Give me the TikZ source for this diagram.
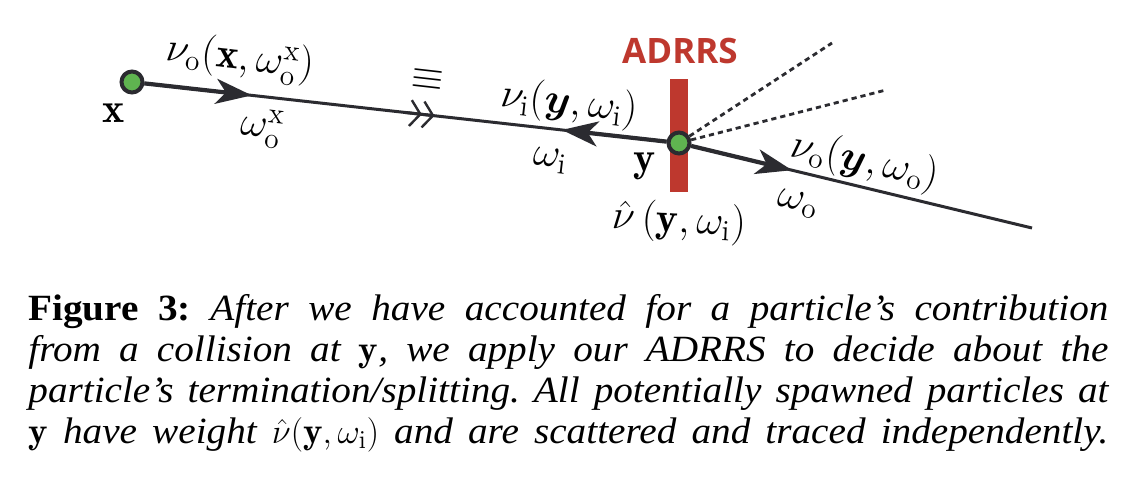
\documentclass[tikz,border=0pt]{standalone}
\usepackage{amsmath}
\usepackage{fontspec}
\newfontfamily\capfont[Ligatures=TeX,FakeStretch=1.06]{Liberation Serif}
\newfontfamily\adrrsfont{Open Sans}
\usetikzlibrary{arrows.meta,calc}
\definecolor{ink}{RGB}{43,43,48}
\definecolor{adred}{RGB}{190,56,46}
\definecolor{dotgreen}{RGB}{95,180,80}
\begin{document}
\begin{tikzpicture}[x=0.5pt,y=-0.5pt,
  lbl/.style={font=\fontsize{21}{25}\selectfont, inner sep=0pt},
  pathline/.style={draw=ink, line width=1.5pt},
  heavy/.style={draw=ink, line width=2.1pt, -{Stealth[length=18pt,width=12.5pt,inset=5pt]}},
  spot/.style={circle, draw=ink, line width=2pt, fill=dotgreen, minimum size=10.5pt, inner sep=0pt},
  scatter/.style={draw=ink, line width=1.4pt, dash pattern=on 2.6pt off 2pt}
]
\fill[white] (0,0) rectangle (1140,494);
\useasboundingbox (0,0) rectangle (1140,494);
\fill[adred] (670,79) rectangle (688,192);
\node[spot] (x) at (132,82) {};
\node[spot] (y) at (679,143) {};
\coordinate (oend) at (1032,228);
\coordinate (u1) at (832,43);
\coordinate (u2) at (886,90);
\draw[pathline] (x) -- (y);
\draw[pathline] (y) -- (oend);
\draw[heavy] (x) -- ($(x)!0.219!(y)$);
\draw[heavy] (y) -- ($(x)!0.786!(y)$);
\draw[heavy] (y) -- ($(y)!0.32!(oend)$);
\draw[ink, line width=1.5pt, -{Straight Barb[length=5pt,width=13pt,line width=1.2pt] Straight Barb[length=5pt,width=13pt,line width=1.2pt]}] ($(x)!0.5!(y)$) -- ($(x)!0.553!(y)$);
\draw[scatter] (y) -- (u1);
\draw[scatter] (y) -- (u2);
\node[lbl, rotate=-6.5] (lxo) at (240,59) {$\nu_{\mathrm{o}}(\mathbf{x},\omega_{\mathrm{o}}^{\mathrm{x}})$};
\node[lbl, rotate=-6.5] (lwx) at (262,128) {$\omega_{\mathrm{o}}^{\mathrm{x}}$};
\node[lbl] (lx) at (114,113) {$\mathbf{x}$};
\node[lbl, rotate=-6.5] (leq) at (428,80) {$\equiv$};
\node[lbl, rotate=-6.5] (lyi) at (569,104) {$\nu_{\mathrm{i}}(\boldsymbol{y},\omega_{\mathrm{i}})$};
\node[lbl, rotate=-6.5] (lwi) at (550,161) {$\omega_{\mathrm{i}}$};
\node[lbl] (ly) at (645,166) {$\mathbf{y}$};
\node[lbl, rotate=-3] (lhat) at (679,222) {$\hat{\nu}\,(\mathbf{y},\omega_{\mathrm{i}})$};
\node[font=\adrrsfont\bfseries\fontsize{17.5}{20}\selectfont, text=adred, inner sep=0pt] (ladrrs) at (680,50.5) {ADRRS};
\node[lbl, rotate=-12] (lyo) at (865,162) {$\nu_{\mathrm{o}}(\boldsymbol{y},\omega_{\mathrm{o}})$};
\node[lbl, rotate=-12] (lwo) at (798,204) {$\omega_{\mathrm{o}}$};
\node[anchor=north west, text width=540pt, align=justify, inner sep=0pt, font=\capfont\fontsize{18.5}{20.5}\selectfont] (cap) at (28,294) {\frenchspacing\parfillskip=0pt \textbf{Figure 3:}\ \textit{After we have accounted for a particle's contribution\linebreak from a collision at $\mathbf{y}$, we apply our ADRRS to decide about the\linebreak particle's termination/splitting. All potentially spawned particles at\linebreak $\mathbf{y}$ have weight $\hat{\nu}(\mathbf{y},\omega_{\mathrm{i}})$ and are scattered and traced independently.}\par};
\end{tikzpicture}
\end{document}
